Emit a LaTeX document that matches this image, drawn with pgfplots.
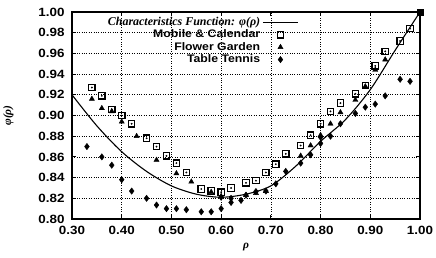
\documentclass[border=0pt]{standalone}
\usepackage{fontspec}
\setmainfont{Liberation Serif}
\setsansfont{Liberation Sans}[FakeStretch=1.12]
\usepackage{pgfplots}
\usepackage{pgfplotstable}
\pgfplotsset{compat=1.18}
\pgfplotsset{
  linelegend/.style={legend image code/.code={\draw[##1] (0cm,0cm) -- (1.25cm,0cm);}},
  marklegend/.style={legend image code/.code={\path[draw=none] (0cm,0cm) -- (1.25cm,0cm); \draw[##1] plot coordinates {(0.625cm,0cm)};}},
}

\pgfplotstableread{
x y
0.30 0.920
0.35 0.890
0.40 0.865
0.45 0.846
0.50 0.832
0.55 0.824
0.60 0.821
0.65 0.824
0.70 0.832
0.75 0.851
0.80 0.875
0.85 0.896
0.90 0.925
0.95 0.963
1.00 1.000
}\curve

\pgfplotstableread{
x y
0.34 0.927
0.36 0.919
0.38 0.906
0.40 0.900
0.42 0.892
0.45 0.878
0.47 0.870
0.49 0.861
0.51 0.854
0.53 0.845
0.56 0.829
0.58 0.827
0.60 0.826
0.62 0.830
0.65 0.835
0.67 0.837
0.69 0.845
0.71 0.853
0.73 0.863
0.76 0.871
0.78 0.881
0.80 0.892
0.82 0.904
0.84 0.912
0.87 0.921
0.89 0.929
0.91 0.948
0.93 0.962
0.96 0.972
0.98 0.984
}\mobile

\pgfplotstableread{
x y
0.34 0.916
0.36 0.907
0.38 0.904
0.40 0.894
0.43 0.880
0.47 0.857
0.51 0.844
0.54 0.836
0.58 0.826
0.60 0.822
0.65 0.823
0.67 0.825
0.69 0.827
0.76 0.861
0.78 0.871
0.80 0.881
0.82 0.892
0.84 0.903
0.87 0.915
0.89 0.928
0.91 0.944
0.93 0.954
}\flower

\pgfplotstableread{
x y
0.33 0.870
0.36 0.860
0.38 0.852
0.40 0.838
0.42 0.827
0.45 0.820
0.47 0.8135
0.49 0.810
0.51 0.810
0.53 0.809
0.56 0.807
0.58 0.807
0.60 0.810
0.60 0.821
0.62 0.816
0.62 0.820
0.64 0.818
0.65 0.823
0.67 0.8265
0.69 0.827
0.71 0.834
0.73 0.846
0.76 0.854
0.78 0.862
0.80 0.873
0.80 0.879
0.82 0.880
0.84 0.892
0.87 0.902
0.89 0.908
0.91 0.911
0.93 0.919
0.96 0.935
0.98 0.933
}\tennis

\begin{document}
\begin{tikzpicture}
\begin{axis}[
  name=ax,
  scale only axis,
  width=348bp, height=207bp,
  xmin=0.30, xmax=1.00, ymin=0.80, ymax=1.00,
  xtick={0.3,0.4,...,1.0},
  ytick={0.80,0.82,...,1.001},
  /pgf/number format/assume math mode=true,
  /pgf/number format/.cd, fixed, fixed zerofill, precision=2, /pgfplots/.cd,
  tick label style={font=\sffamily\bfseries\fontsize{12}{14}\selectfont},
  xticklabel style={yshift=-3.5bp},
  yticklabel style={xshift=-4bp},
  tick align=inside,
  major tick length=4bp,
  tick style={black, line width=0.9pt},
  axis line style={line width=1.3pt},
  grid=major,
  grid style={black, dotted, line width=0.7pt},
  clip=false,
  xlabel={\rmfamily\bfseries\itshape ρ},
  ylabel={\rmfamily\bfseries\itshape φ(ρ)},
  label style={font=\fontsize{11.5}{13}\selectfont},
  xlabel style={at={(rel axis cs:0.5,0)}, anchor=center, yshift=-28bp},
  ylabel shift=18bp,
  legend style={at={(rel axis cs:0.655,0.99)}, anchor=north east, draw=none, fill=none,
    font=\sffamily\bfseries\fontsize{11}{13}\selectfont, row sep=-1bp, inner sep=1bp},
  legend cell align=right,
  legend plot pos=right,
]
\addplot[black, line width=1.1pt, smooth, no markers, linelegend] table {\curve};
\addlegendentry{\rmfamily\bfseries\itshape\fontsize{12}{13}\selectfont Characteristics Function: φ(ρ)}
\addplot[only marks, mark=square, mark size=3.2pt, mark options={black, line width=1.2pt}, marklegend] table {\mobile};
\addlegendentry{Mobile \& Calendar}
\addplot[only marks, mark=triangle*, mark size=3pt, mark options={black, fill=black}, marklegend] table {\flower};
\addlegendentry{Flower Garden}
\addplot[only marks, mark=diamond*, mark size=3.2pt, mark options={black, fill=black}, marklegend] table {\tennis};
\addlegendentry{Table Tennis}
\addplot[forget plot, only marks, mark=*, mark size=0.7pt, black] table {\mobile};
\addplot[forget plot, only marks, mark=square*, mark size=3.2pt, black] coordinates {(1.00,1.00)};
\end{axis}
\pgfresetboundingbox
\path ([xshift=-72bp,yshift=-38bp]ax.south west) rectangle ([xshift=16bp,yshift=12bp]ax.north east);
\end{tikzpicture}
\end{document}
